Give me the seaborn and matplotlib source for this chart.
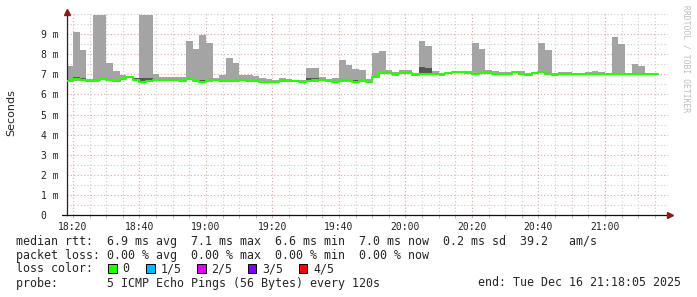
import numpy as np
import pandas as pd
import matplotlib
matplotlib.use("Agg")
import matplotlib.pyplot as plt
import matplotlib.dates as mdates
from matplotlib.patches import Rectangle
from matplotlib.lines import Line2D
import seaborn as sns

# ---------------- data (milliseconds, one value per 2-minute probe round) -------------
start_time = "2025-12-16 18:18:00"
step = "2min"

max_ms = [7.40, 9.10, 8.20, 6.75, 9.95, 9.95, 7.58, 7.16, 6.95, 6.92,
          6.83, 9.95, 9.95, 7.01, 6.87, 6.87, 6.87, 6.87, 8.66, 8.26,
          8.96, 8.56, 6.80, 6.97, 7.81, 7.56, 6.97, 6.95, 6.90, 6.82,
          6.75, 6.72, 6.82, 6.77, 6.72, 6.70, 7.31, 7.31, 6.87, 6.77,
          6.82, 7.71, 7.48, 7.26, 7.20, 6.75, 8.06, 8.16, 7.21, 7.11,
          7.20, 7.20, 7.08, 8.66, 8.41, 7.16, 7.08, 7.10, 7.16, 7.16,
          7.16, 8.56, 8.26, 7.21, 7.16, 7.11, 7.11, 7.16, 7.15, 7.08,
          7.13, 8.56, 8.21, 7.05, 7.13, 7.13, 7.05, 7.05, 7.11, 7.16,
          7.10, 7.08, 8.86, 8.51, 7.05, 7.51, 7.41, 7.05, 7.05]

median_ms = [6.67, 6.75, 6.70, 6.68, 6.70, 6.80, 6.72, 6.68, 6.78, 6.87,
             6.72, 6.63, 6.67, 6.70, 6.70, 6.72, 6.72, 6.69, 6.78, 6.68,
             6.63, 6.70, 6.72, 6.68, 6.66, 6.70, 6.72, 6.66, 6.67, 6.63,
             6.62, 6.60, 6.65, 6.66, 6.66, 6.62, 6.67, 6.70, 6.72, 6.66,
             6.62, 6.70, 6.70, 6.63, 6.70, 6.62, 6.88, 7.08, 7.08, 7.00,
             7.05, 7.07, 6.98, 7.02, 7.02, 7.02, 7.00, 7.05, 7.12, 7.12,
             7.07, 7.02, 7.05, 7.07, 7.02, 7.02, 7.02, 7.12, 7.03, 6.98,
             7.07, 7.12, 7.02, 6.99, 7.02, 7.02, 7.02, 7.02, 7.02, 7.04,
             7.04, 7.04, 7.04, 7.04, 7.04, 7.04, 7.04, 7.04, 7.04]

min_ms = [6.62, 6.68, 6.66, 6.64, 6.64, 6.72, 6.66, 6.64, 6.72, 6.80,
          6.66, 6.58, 6.62, 6.66, 6.66, 6.66, 6.66, 6.60, 6.72, 6.62,
          6.58, 6.64, 6.66, 6.62, 6.60, 6.64, 6.66, 6.60, 6.62, 6.58,
          6.56, 6.56, 6.60, 6.60, 6.60, 6.56, 6.62, 6.64, 6.66, 6.60,
          6.56, 6.64, 6.64, 6.58, 6.64, 6.56, 6.82, 7.02, 7.02, 6.94,
          7.00, 7.02, 6.92, 6.96, 6.96, 6.96, 6.94, 7.00, 7.06, 7.06,
          7.02, 6.96, 7.00, 7.02, 6.96, 6.96, 6.96, 7.06, 6.98, 6.92,
          7.02, 7.06, 6.96, 6.94, 6.96, 6.96, 6.96, 6.96, 6.96, 6.98,
          6.98, 6.98, 6.98, 6.98, 6.98, 6.98, 6.98, 6.98, 6.98]

inner_ms = [6.70, 6.86, 6.82, 6.70, 6.74, 6.82, 6.74, 6.70, 6.80, 6.90,
            6.80, 6.82, 6.82, 6.72, 6.72, 6.74, 6.74, 6.72, 6.80, 6.70,
            6.74, 6.74, 6.74, 6.70, 6.68, 6.78, 6.78, 6.68, 6.70, 6.66,
            6.64, 6.62, 6.68, 6.68, 6.68, 6.64, 6.80, 6.80, 6.74, 6.68,
            6.64, 6.76, 6.76, 6.74, 6.76, 6.66, 6.90, 7.10, 7.10, 7.04,
            7.07, 7.09, 7.00, 7.37, 7.31, 7.08, 7.04, 7.07, 7.14, 7.14,
            7.09, 7.04, 7.07, 7.09, 7.04, 7.04, 7.04, 7.15, 7.05, 7.02,
            7.12, 7.14, 7.04, 7.02, 7.04, 7.04, 7.04, 7.04, 7.04, 7.06,
            7.06, 7.06, 7.06, 7.06, 7.06, 7.06, 7.06, 7.06, 7.06]

ytick_values = [0, 1, 2, 3, 4, 5, 6, 7, 8, 9]
ytick_labels = ["0  ", "1 m", "2 m", "3 m", "4 m", "5 m", "6 m", "7 m", "8 m", "9 m"]

loss_labels = ["0", "1/5", "2/5", "3/5", "4/5"]
loss_colors = ["#26ff00", "#00b8ff", "#dd00ff", "#7e00ff", "#ff0000"]

line1 = "median rtt:  6.9 ms avg  7.1 ms max  6.6 ms min  7.0 ms now  0.2 ms sd  39.2   am/s"
line2 = "packet loss: 0.00 % avg  0.00 % max  0.00 % min  0.00 % now"
line3 = "loss color:"
line4 = "probe:       5 ICMP Echo Pings (56 Bytes) every 120s"
end_text = "end: Tue Dec 16 21:18:05 2025"
side_text = "RRDTOOL / TOBI OETIKER"

# ---------------- figure --------------------------------------------------------------
sns.set_theme(style="white")
plt.rcParams["font.family"] = ["DejaVu Sans"]
MONO = "DejaVu Sans Mono"

W, H = 697, 297
fig = plt.figure(figsize=(W / 100, H / 100), dpi=100)
fig.patch.set_facecolor("white")
L, R, B, T = 67, 668, 215, 12
ax = fig.add_axes([L / W, 1 - B / H, (R - L) / W, (B - T) / H])
ax.set_facecolor("white")

n = len(median_ms)
times = pd.date_range(start_time, periods=n + 1, freq=step)


def ext(a):
    return list(a) + [a[-1]]


df = pd.DataFrame({"time": times, "max": ext(max_ms), "median": ext(median_ms),
                   "min": ext(min_ms), "inner": ext(inner_ms)})

ax.fill_between(df["time"], df["min"], df["max"], step="post",
                color="#a4a4a4", lw=0, zorder=2)
ax.fill_between(df["time"], df["median"], df["inner"], step="post",
                color="#555555", lw=0, zorder=3)
sns.lineplot(data=df, x="time", y="median", drawstyle="steps-post",
             estimator=None, color="#26ff00", lw=1.5, ax=ax, zorder=4)

x0 = pd.Timestamp("2025-12-16 18:18:12")
x1 = pd.Timestamp("2025-12-16 21:18:57")
ax.set_xlim(x0, x1)
ax.set_ylim(0, 10.1)

ax.xaxis.set_major_locator(mdates.MinuteLocator(byminute=[0, 20, 40]))
ax.xaxis.set_minor_locator(mdates.MinuteLocator(byminute=range(0, 60, 5)))
ax.xaxis.set_major_formatter(mdates.DateFormatter("%H:%M"))
ax.set_yticks(ytick_values)
ax.set_yticklabels(ytick_labels)
ax.set_yticks(np.arange(0.5, 10.01, 0.5), minor=True)

ax.set_axisbelow(True)
ax.grid(which="minor", color="#cccccc", lw=0.8, ls=(0, (1, 2)))
ax.grid(which="major", color="#eca0a0", lw=0.8, ls=(0, (1, 2)))

ax.set_xlabel("")
ax.set_ylabel("")
for lab in ax.get_xticklabels() + ax.get_yticklabels():
    lab.set_fontfamily(MONO)
    lab.set_fontsize(7.0)
    lab.set_color("#222222")
ax.tick_params(axis="x", which="both", length=2, width=0.7, color="#bbbbbb",
               pad=3, bottom=True)
ax.tick_params(axis="y", which="both", length=0, pad=6, left=True)

for s in ["top", "right"]:
    ax.spines[s].set_visible(False)
ax.spines["left"].set_color("#222222")
ax.spines["bottom"].set_color("#111111")
ax.spines["left"].set_linewidth(0.9)
ax.spines["bottom"].set_linewidth(0.9)

# small extension of the x axis to the left of the y axis
fig.add_artist(Line2D([62 / W, L / W], [1 - B / H, 1 - B / H], color="#111111",
                      lw=0.9, transform=fig.transFigure))

# arrows
ax.plot([0], [1.0], marker="^", ms=4, color="#8b1a1a", transform=ax.transAxes,
        clip_on=False, zorder=6)
ax.plot([1.004], [0], marker=">", ms=4, color="#8b1a1a", transform=ax.transAxes,
        clip_on=False, zorder=6)

# labels
fig.text(11 / W, 1 - 113 / H, "Seconds", rotation=90, ha="center", va="center",
         fontsize=8, color="#222222")
fig.text(686 / W, 1 - 5 / H, side_text, rotation=270, ha="center", va="top",
         fontsize=5.8, family=MONO, color="#bdbdbd")

fs = 8.4
fig.text(16 / W, 1 - 241 / H, line1, ha="left", va="center", family=MONO, fontsize=fs)
fig.text(16 / W, 1 - 255 / H, line2, ha="left", va="center", family=MONO, fontsize=fs)
fig.text(16 / W, 1 - 269 / H, line3, ha="left", va="center", family=MONO, fontsize=fs)
fig.text(16 / W, 1 - 283 / H, line4, ha="left", va="center", family=MONO, fontsize=fs)
fig.text(681 / W, 1 - 283 / H, end_text, ha="right", va="center", family=MONO, fontsize=fs)

box_x = [108, 146, 197, 247.5, 298.5]
for bx, col, lab in zip(box_x, loss_colors, loss_labels):
    fig.add_artist(Rectangle((bx / W, 1 - 273 / H), 8.5 / W, 9 / H,
                             transform=fig.transFigure, facecolor=col,
                             edgecolor="black", lw=0.7))
    fig.text((bx + 14.5) / W, 1 - 269 / H, lab, ha="left", va="center",
             family=MONO, fontsize=fs)

fig.savefig("out.png", dpi=100, facecolor="white")
